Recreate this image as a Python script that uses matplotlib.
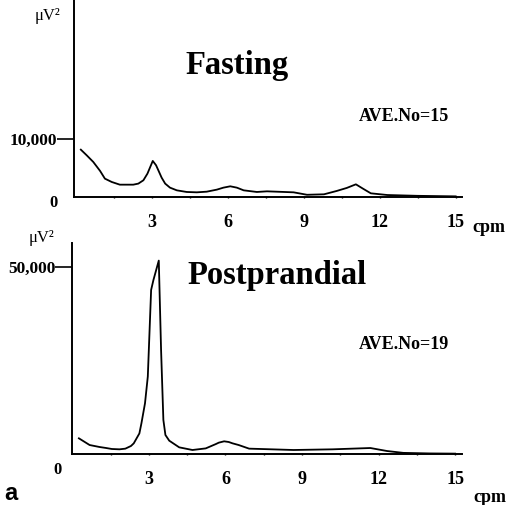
import numpy as np
import matplotlib
matplotlib.use("Agg")
import matplotlib.pyplot as plt

# Fasting spectrum (cpm vs μV²)
fast_x = [0.2, 0.43, 0.69, 0.96, 1.15, 1.42, 1.74, 2.27, 2.47, 2.67, 2.83, 3.04, 3.17,
          3.26, 3.39, 3.53, 3.72, 3.99, 4.38, 4.78, 5.17, 5.57, 5.83, 6.1, 6.36, 6.63,
          7.15, 7.55, 8.6, 9.13, 9.8, 10.3, 10.7, 11.06, 11.35, 11.65, 12.3, 13.5, 15.0]
fast_y = [8100, 7140, 6000, 4460, 3140, 2570, 2110, 2110, 2290, 2860, 4000, 6170, 5430,
          4570, 3310, 2290, 1600, 1140, 860, 800, 910, 1260, 1600, 1830, 1600, 1140,
          860, 970, 800, 380, 460, 1030, 1550, 2170, 1400, 630, 340, 200, 110]

# Postprandial spectrum
post_x = [0.26, 0.68, 1.07, 1.33, 1.55, 1.85, 2.08, 2.3, 2.41, 2.63, 2.71, 2.85, 2.96,
          3.09, 3.18, 3.39, 3.48, 3.57, 3.65, 3.8, 4.19, 4.71, 5.23, 5.63, 5.74, 5.95,
          6.13, 6.28, 6.52, 6.93, 7.38, 8.67, 10.2, 11.68, 12.33, 12.97, 14.0, 15.0]
post_y = [4190, 2400, 1870, 1600, 1340, 1250, 1430, 2140, 2850, 5500, 8200, 13550, 20700,
          43850, 46500, 51700, 27800, 9100, 5080, 3560, 1780, 1070, 1500, 2670, 3030, 3390,
          3210, 2850, 2400, 1430, 1340, 1070, 1250, 1600, 800, 300, 150, 100]

xtick_vals = [3, 6, 9, 12, 15]
xtick_labels = ["3", "6", "9", "12", "15"]

W, H = 508, 505
fig = plt.figure(figsize=(W / 100, H / 100), dpi=100)
serif = ["Liberation Serif", "DejaVu Serif"]


def px(x0, y0, x1, y1):
    return [x0 / W, 1 - y1 / H, (x1 - x0) / W, (y1 - y0) / H]


def style(ax, xs, ys, xlim, ylim, ytick, ylabel_txt, zero_xy, mu_xy, cpm_xy):
    ax.plot(xs, ys, color="black", lw=1.3)
    ax.set_xlim(*xlim)
    ax.set_ylim(*ylim)
    for s in ["top", "right"]:
        ax.spines[s].set_visible(False)
    for s in ["left", "bottom"]:
        ax.spines[s].set_linewidth(1.4)
    minor = np.arange(1.5, 15.01, 1.5)
    ax.set_xticks(minor, minor=True)
    ax.tick_params(axis="x", which="minor", length=2, width=1, direction="inout")
    ax.set_xticks(xtick_vals)
    ax.set_xticklabels(xtick_labels, fontfamily=serif, fontweight="bold", fontsize=13)
    ax.tick_params(axis="x", which="major", length=2, width=1, direction="inout", pad=11)
    ax.set_yticks([ytick])
    ax.set_yticklabels([ylabel_txt], fontfamily=serif, fontweight="bold", fontsize=12.5)
    ax.tick_params(axis="y", length=12, width=1.2, pad=0)
    fig.text(zero_xy[0] / W, 1 - zero_xy[1] / H, "0", fontfamily=serif, fontweight="bold",
             fontsize=12, ha="center", va="center")
    fig.text(mu_xy[0] / W, 1 - mu_xy[1] / H, "μV²", fontfamily=serif,
             fontsize=12, ha="center", va="center")
    fig.text(cpm_xy[0] / W, 1 - cpm_xy[1] / H, "cpm", fontfamily=serif, fontweight="bold",
             fontsize=13, ha="center", va="center")


ax1 = fig.add_axes(px(74, 0, 462, 197))
ax2 = fig.add_axes(px(72, 243, 462, 454))

style(ax1, fast_x, fast_y, (-0.07, 15.25), (0, 33700), 10000, "10,000",
      (53, 203), (47, 16), (489, 228))
style(ax2, post_x, post_y, (-0.01, 15.27), (0, 56400), 50000, "50,000",
      (57, 470), (42, 238), (490, 498))

ax1.text(0.42, 0.67, "Fasting", transform=ax1.transAxes, fontfamily=serif,
         fontweight="bold", fontsize=23.5, ha="center", va="center")
ax1.text(0.85, 0.41, "AVE.No=15", transform=ax1.transAxes, fontfamily=serif,
         fontweight="bold", fontsize=13, ha="center", va="center")
ax2.text(0.525, 0.845, "Postprandial", transform=ax2.transAxes, fontfamily=serif,
         fontweight="bold", fontsize=23.5, ha="center", va="center")
ax2.text(0.85, 0.52, "AVE.No=19", transform=ax2.transAxes, fontfamily=serif,
         fontweight="bold", fontsize=13, ha="center", va="center")

fig.text(11 / W, 1 - 494 / H, "a", fontfamily=["Liberation Sans", "DejaVu Sans"],
         fontweight="bold", fontsize=17, ha="center", va="center")

fig.savefig("out.png", dpi=100)
